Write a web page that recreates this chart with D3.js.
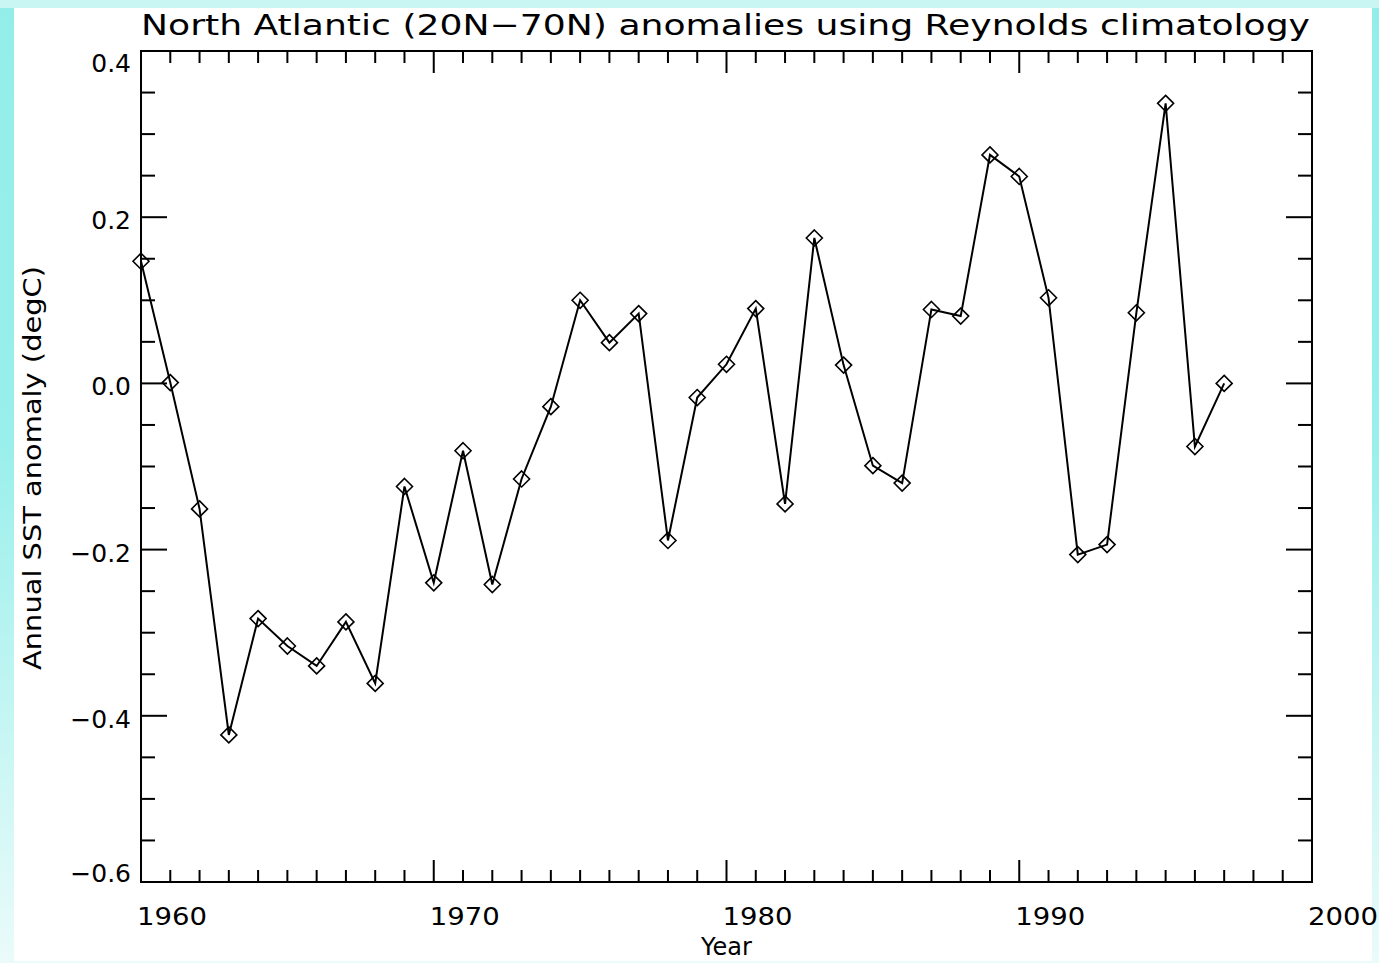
<!DOCTYPE html>
<html>
<head>
<meta charset="utf-8">
<script src="https://cdn.jsdelivr.net/npm/d3@7"></script>
<style>
  html, body { margin: 0; padding: 0; overflow: hidden; }
  svg { display: block; }
  text { font-family: "DejaVu Sans", "Liberation Sans", sans-serif; fill: #000; }
</style>
</head>
<body>
<div id="chart"></div>
<script>
// annual SST anomaly, North Atlantic 20N-70N
const years = [
  1960, 1961, 1962, 1963, 1964, 1965, 1966, 1967, 1968, 1969,
  1970, 1971, 1972, 1973, 1974, 1975, 1976, 1977, 1978, 1979,
  1980, 1981, 1982, 1983, 1984, 1985, 1986, 1987, 1988, 1989,
  1990, 1991, 1992, 1993, 1994, 1995, 1996, 1997
];
const anomalies = [
  0.147, 0.001, -0.151, -0.423, -0.283, -0.316, -0.340, -0.287, -0.361, -0.124,
  -0.240, -0.081, -0.242, -0.115, -0.028, 0.100, 0.049, 0.084, -0.189, -0.017,
  0.023, 0.090, -0.145, 0.175, 0.022, -0.099, -0.120, 0.089, 0.081, 0.275,
  0.249, 0.103, -0.206, -0.194, 0.085, 0.337, -0.076, 0.000
];
const xMajorTicks = [1960, 1970, 1980, 1990, 2000];
const yMajorTicks = [0.4, 0.2, 0.0, -0.2, -0.4, -0.6];

const titleText = 'North Atlantic (20N\u221270N) anomalies using Reynolds climatology';
const xLabel = 'Year';
const yLabel = 'Annual SST anomaly (degC)';

const W = 1379, H = 963;
const plot = { left: 141, right: 1312, top: 51, bottom: 882 };

const svg = d3.select('#chart').append('svg')
  .attr('width', W)
  .attr('height', H);

// backdrop: cyan page with a white panel
const defs = svg.append('defs');
const grad = defs.append('linearGradient')
  .attr('id', 'bg').attr('x1', 0).attr('y1', 0).attr('x2', 0).attr('y2', 1);
grad.append('stop').attr('offset', '0%').attr('stop-color', '#93eeea');
grad.append('stop').attr('offset', '45%').attr('stop-color', '#98efeb');
grad.append('stop').attr('offset', '100%').attr('stop-color', '#eafbfa');

svg.append('rect').attr('width', W).attr('height', H).attr('fill', 'url(#bg)');
svg.append('rect').attr('x', 0).attr('y', 0).attr('width', W).attr('height', 8)
  .attr('fill', '#c9f6f3');
svg.append('rect')
  .attr('x', 14).attr('y', 8)
  .attr('width', 1358).attr('height', 953)
  .attr('fill', '#fff');

const x = d3.scaleLinear().domain([1960, 2000]).range([plot.left, plot.right]);
const y = d3.scaleLinear().domain([-0.6, 0.4]).range([plot.bottom, plot.top]);

const g = svg.append('g');

// frame
g.append('rect')
  .attr('x', plot.left).attr('y', plot.top)
  .attr('width', plot.right - plot.left).attr('height', plot.bottom - plot.top)
  .attr('fill', 'none').attr('stroke', '#000').attr('stroke-width', 2);

// x ticks on bottom and top, every year
const xMinor = d3.range(1960, 2001, 1);
const xTicks = g.append('g').attr('stroke', '#000').attr('stroke-width', 2);
xMinor.forEach(t => {
  const len = t % 10 === 0 ? 22 : 12;
  xTicks.append('line')
    .attr('x1', x(t)).attr('x2', x(t))
    .attr('y1', plot.bottom).attr('y2', plot.bottom - len);
  xTicks.append('line')
    .attr('x1', x(t)).attr('x2', x(t))
    .attr('y1', plot.top).attr('y2', plot.top + len);
});

// y ticks on left and right, every 0.05
const yMinor = d3.range(0, 21).map(i => -0.6 + i * 0.05);
const yTicks = g.append('g').attr('stroke', '#000').attr('stroke-width', 2);
yMinor.forEach((t, i) => {
  const len = i % 4 === 0 ? 26 : 14;
  yTicks.append('line')
    .attr('x1', plot.left).attr('x2', plot.left + len)
    .attr('y1', y(t)).attr('y2', y(t));
  yTicks.append('line')
    .attr('x1', plot.right).attr('x2', plot.right - len)
    .attr('y1', y(t)).attr('y2', y(t));
});

// tick labels
const fmtY = v => (v < 0 ? '\u2212' : '') + Math.abs(v).toFixed(1);
g.append('g').selectAll('text')
  .data(yMajorTicks)
  .join('text')
  .attr('x', plot.left - 10)
  .attr('y', d => Math.max(plot.top + 12, Math.min(plot.bottom - 9, y(d) + 3)))
  .attr('dy', '0.36em')
  .attr('text-anchor', 'end')
  .attr('font-size', 25)
  .text(fmtY);

g.append('g').selectAll('text')
  .data(xMajorTicks)
  .join('text')
  .attr('x', d => x(d) - 4)
  .attr('y', 925)
  .attr('font-size', 25)
  .attr('textLength', 70)
  .attr('lengthAdjust', 'spacingAndGlyphs')
  .text(d => d);

// titles
svg.append('text')
  .attr('x', 141).attr('y', 35)
  .attr('font-size', 29)
  .attr('textLength', 1169)
  .attr('lengthAdjust', 'spacingAndGlyphs')
  .text(titleText);

svg.append('text')
  .attr('x', x(1980)).attr('y', 955)
  .attr('text-anchor', 'middle')
  .attr('font-size', 24)
  .text(xLabel);

svg.append('text')
  .attr('transform', 'translate(41,468) rotate(-90)')
  .attr('text-anchor', 'middle')
  .attr('font-size', 25)
  .attr('textLength', 404)
  .attr('lengthAdjust', 'spacingAndGlyphs')
  .text(yLabel);

// series
const points = years.map((yr, i) => ({ yr, v: anomalies[i] }));

g.append('path')
  .datum(points)
  .attr('fill', 'none')
  .attr('stroke', '#000')
  .attr('stroke-width', 2)
  .attr('d', d3.line().x(d => x(d.yr)).y(d => y(d.v)));

g.append('g').selectAll('path')
  .data(points)
  .join('path')
  .attr('transform', d => `translate(${x(d.yr)},${y(d.v)})`)
  .attr('d', 'M0,-8L8,0L0,8L-8,0Z')
  .attr('fill', 'none')
  .attr('stroke', '#000')
  .attr('stroke-width', 1.6);
</script>
</body>
</html>
